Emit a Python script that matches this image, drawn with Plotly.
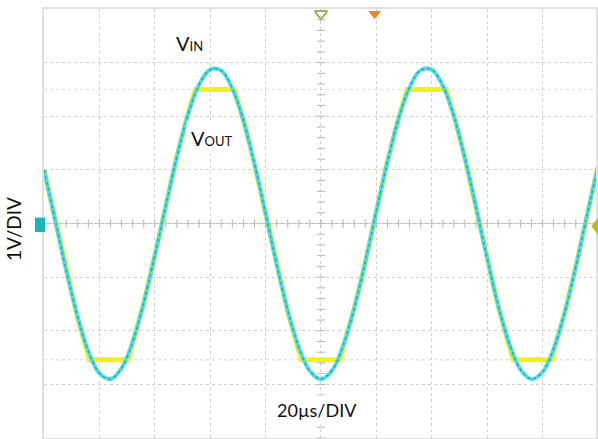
import plotly.graph_objects as go
import numpy as np

# ---- data (time in µs, amplitude in V) ----
t_in = [0, 4, 8, 12, 16, 20, 24, 28, 32, 36, 40, 44, 48, 52, 56, 60, 64, 68, 72, 76,
        80, 84, 88, 92, 96, 100, 104, 108, 112, 116, 120, 124, 128, 132, 136, 140,
        144, 148, 152, 156, 160, 164, 168, 172, 176, 180, 184, 188, 192, 196, 200]
v_in = [1.00, 0.07, -0.87, -1.71, -2.38, -2.79, -2.90, -2.70, -2.21, -1.48, -0.60,
        0.34, 1.25, 2.03, 2.59, 2.87, 2.85, 2.52, 1.92, 1.11, 0.19, -0.76, -1.62,
        -2.31, -2.75, -2.90, -2.74, -2.28, -1.58, -0.72, 0.23, 1.15, 1.95, 2.54,
        2.86, 2.87, 2.57, 2.00, 1.21, 0.30, -0.65, -1.53, -2.24, -2.72, -2.90,
        -2.77, -2.34, -1.66, -0.81, 0.14, 1.06]

t_out = [0, 4, 8, 12, 16.4, 30.4, 32, 36, 40, 44, 48, 52, 54.65, 68.65, 72, 76, 80,
         84, 88, 92.9, 106.9, 108, 112, 116, 120, 124, 128, 131.15, 145.15, 148, 152,
         156, 160, 164, 169.4, 183.4, 184, 188, 192, 196, 200]
v_out = [1.00, 0.07, -0.87, -1.73, -2.54, -2.54, -2.23, -1.49, -0.60, 0.34, 1.26,
         2.05, 2.50, 2.50, 1.93, 1.11, 0.19, -0.77, -1.64, -2.54, -2.54, -2.30, -1.59,
         -0.72, 0.23, 1.16, 1.97, 2.50, 2.50, 2.02, 1.22, 0.30, -0.65, -1.55, -2.54,
         -2.54, -2.38, -1.67, -0.81, 0.14, 1.06]

clip_levels = [2.5, -2.54]
trigger_time = 100
cursor_time = 119.4

FONT = "Lato"
GRID = "#d0d0d0"
X_MAX = 199.3

fig = go.Figure()

# VOUT (yellow, clipped)
fig.add_trace(go.Scatter(x=t_out, y=v_out, mode="lines",
                         line=dict(color="#f2f21a", width=5), hoverinfo="skip"))
# VIN (cyan)
fig.add_trace(go.Scatter(x=t_in, y=v_in, mode="lines",
                         line=dict(color="#4fdce4", width=4, shape="spline"), hoverinfo="skip"))
fig.add_trace(go.Scatter(x=t_in, y=v_in, mode="lines",
                         line=dict(color="#1fa9b3", width=1.3, shape="spline", dash="dot"),
                         hoverinfo="skip"))

# minor ticks on centre axes
xt = np.arange(0, 201, 4)
yt = np.arange(-4, 4.01, 0.2)
fig.add_trace(go.Scatter(x=xt, y=np.zeros_like(xt), mode="markers",
                         marker=dict(symbol="line-ns-open", size=6, color="#b5b5b5",
                                     line=dict(width=1, color="#b5b5b5")),
                         hoverinfo="skip"))
fig.add_trace(go.Scatter(x=np.full_like(yt, trigger_time), y=yt, mode="markers",
                         marker=dict(symbol="line-ew-open", size=6, color="#b5b5b5",
                                     line=dict(width=1, color="#b5b5b5")),
                         hoverinfo="skip"))

# scope trigger / cursor markers
fig.add_trace(go.Scatter(x=[trigger_time], y=[3.91], mode="markers", cliponaxis=False,
                         marker=dict(symbol="triangle-down-open", size=11, color="#a3b060",
                                     line=dict(color="#a3b060", width=2)), hoverinfo="skip"))
fig.add_trace(go.Scatter(x=[cursor_time], y=[3.91], mode="markers", cliponaxis=False,
                         marker=dict(symbol="triangle-down", size=11, color="#f0851f"),
                         hoverinfo="skip"))

shapes = []
for lv in clip_levels:
    shapes.append(dict(type="line", xref="x", yref="y", x0=0, x1=200, y0=lv, y1=lv,
                       line=dict(color="#e2e2e2", width=1.5, dash="dot"), layer="below"))
shapes.append(dict(type="line", xref="x", yref="y", x0=0, x1=200, y0=0, y1=0,
                   line=dict(color="#bdbdbd", width=1), layer="below"))
# channel-1 ground marker (left) and trigger-level marker (right)
shapes.append(dict(type="rect", xref="paper", yref="y", x0=-0.0165, x1=0.002,
                   y0=-0.16, y1=0.11, fillcolor="#1fb4b8", line=dict(width=0)))
shapes.append(dict(type="path", xref="paper", yref="y",
                   path="M 0.9915,-0.05 L 1.0045,0.12 L 1.0175,-0.05 L 1.0045,-0.22 Z",
                   fillcolor="#c4bb05", line=dict(width=0)))

annotations = [
    dict(x=52.5, y=3.36, xref="x", yref="y", showarrow=False,
         text="V<span style='font-size:13px'>IN</span>",
         font=dict(family=FONT, size=20, color="#111"), bgcolor="white", borderpad=6),
    dict(x=60.5, y=1.59, xref="x", yref="y", showarrow=False,
         text="V<span style='font-size:13px'>OUT</span>",
         font=dict(family=FONT, size=20, color="#111"), bgcolor="white", borderpad=4),
    dict(x=98.6, y=-3.48, xref="x", yref="y", showarrow=False, text="20µs/DIV",
         font=dict(family=FONT, size=18, color="#111"), bgcolor="white", borderpad=3),
    dict(x=-30 / 554, y=-0.1, xref="paper", yref="y", xanchor="center", yanchor="middle",
         showarrow=False, text="1V/DIV", textangle=-90,
         font=dict(family=FONT, size=19, color="#111")),
]

fig.update_layout(
    width=598, height=439,
    margin=dict(l=44, r=0, t=9, b=1),
    paper_bgcolor="white", plot_bgcolor="white",
    showlegend=False,
    shapes=shapes, annotations=annotations,
    xaxis=dict(range=[0, X_MAX], dtick=20, tick0=0, showticklabels=False, ticks="",
               showgrid=True, gridcolor=GRID, griddash="dot", gridwidth=1,
               zeroline=False, showline=True, linecolor="#e0e0e0", linewidth=1.5, mirror=True),
    yaxis=dict(range=[-4, 4], dtick=1, tick0=0, showticklabels=False, ticks="",
               showgrid=True, gridcolor=GRID, griddash="dot", gridwidth=1,
               zeroline=False, showline=True, linecolor="#e0e0e0", linewidth=1.5, mirror=True),
)

fig.write_html("out.html", config={"displayModeBar": False},
               post_script="document.body.style.margin='0';")
